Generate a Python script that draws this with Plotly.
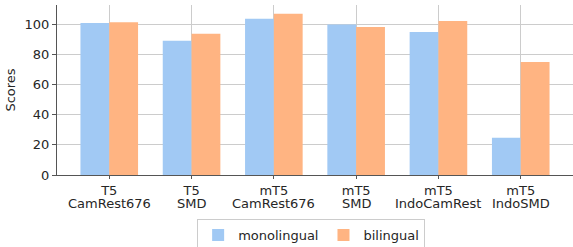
import plotly.graph_objects as go

models = ["T5", "T5", "mT5", "mT5", "mT5", "mT5"]
datasets = ["CamRest676", "SMD", "CamRest676", "SMD", "IndoCamRest", "IndoSMD"]
categories = [m + " " + d for m, d in zip(models, datasets)]
monolingual = [100.7, 88.9, 103.5, 99.7, 94.7, 24.6]
bilingual = [101.1, 93.6, 106.8, 98.0, 102.0, 74.9]
y_ticks = [0, 20, 40, 60, 80, 100]

fig = go.Figure()
fig.add_trace(go.Bar(x=categories, y=monolingual, name="monolingual",
                     marker=dict(color="#a1c9f4", line=dict(width=0))))
fig.add_trace(go.Bar(x=categories, y=bilingual, name="bilingual",
                     marker=dict(color="#ffb482", line=dict(width=0))))

for c, d in zip(categories, datasets):
    fig.add_annotation(x=c, xref="x", y=0, yref="paper", yanchor="top", yshift=-20,
                       borderpad=0, text=d, showarrow=False,
                       font=dict(size=13, color="#262626"))

fig.update_layout(
    width=573, height=247,
    margin=dict(l=57, r=0, t=5, b=72, autoexpand=False),
    barmode="group", bargap=0.3, bargroupgap=0,
    plot_bgcolor="white", paper_bgcolor="white",
    font=dict(family="DejaVu Sans", size=13, color="#262626"),
    legend=dict(orientation="h", x=0.543, xanchor="center", xref="container",
                y=0.113, yanchor="top", yref="container",
                bordercolor="#cccccc", borderwidth=1, font=dict(size=13),
                itemwidth=30, tracegroupgap=0),
    xaxis=dict(range=[-0.635, 5.635], showgrid=True, gridcolor="#cccccc",
               tickvals=categories, ticktext=models,
               showline=True, linecolor="#555555", ticks="outside", ticklen=3,
               tickcolor="#555555", tickfont=dict(size=13)),
    yaxis=dict(range=[0, 112.6], tickvals=y_ticks, showgrid=True, gridcolor="#cccccc",
               showline=True, linecolor="#555555", ticks="outside", ticklen=4,
               tickcolor="#555555", zeroline=False, tickfont=dict(size=13),
               title=dict(text="Scores", standoff=6, font=dict(size=13))),
)
fig.write_html("out.html", config={"displayModeBar": False},
               post_script="document.body.style.margin='0px';document.body.style.overflow='hidden';")
